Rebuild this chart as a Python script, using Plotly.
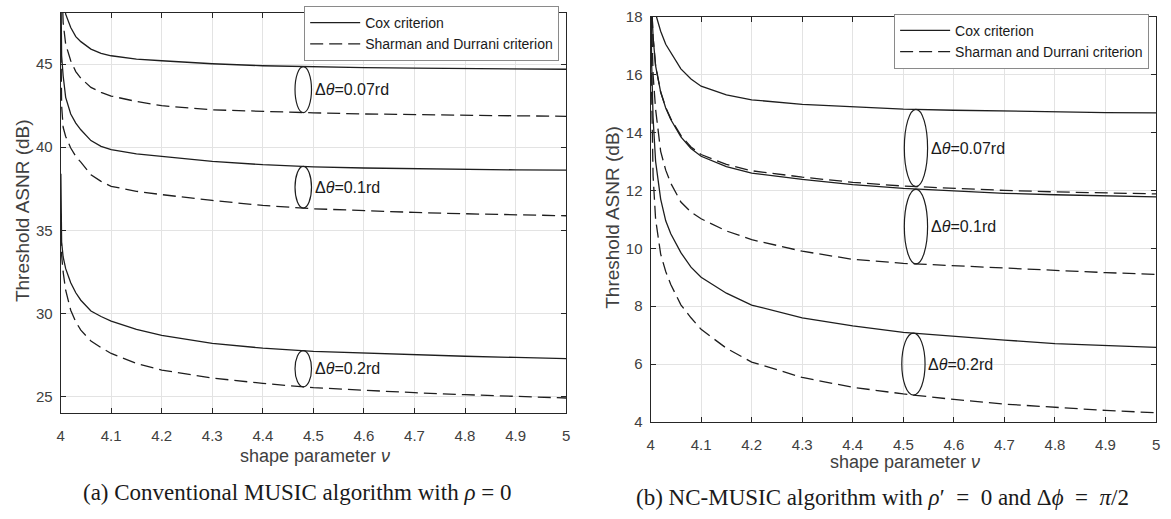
import numpy as np
import plotly.graph_objects as go

# ---------------- data ----------------
nu = [4.0005, 4.002, 4.005, 4.01, 4.02, 4.03, 4.04, 4.06, 4.08, 4.1, 4.15, 4.2,
      4.3, 4.4, 4.5, 4.6, 4.7, 4.8, 4.9, 5.0]

# (a) Conventional MUSIC, rho = 0
a_cox_007 = [56.0, 52.0, 49.5, 48.0, 47.2, 46.65, 46.35, 45.9, 45.65, 45.5, 45.3, 45.2,
             45.02, 44.9, 44.83, 44.79, 44.76, 44.73, 44.71, 44.69]
a_sd_007 = [55.0, 50.5, 47.5, 46.2, 45.2, 44.55, 44.15, 43.6, 43.3, 43.08, 42.75, 42.5,
            42.25, 42.15, 42.07, 42.0, 41.95, 41.92, 41.89, 41.86]
a_cox_01 = [50.0, 45.5, 44.3, 43.0, 42.0, 41.45, 41.05, 40.4, 40.05, 39.85, 39.6, 39.44,
            39.15, 38.95, 38.82, 38.75, 38.7, 38.66, 38.64, 38.62]
a_sd_01 = [47.0, 42.5, 41.2, 40.65, 39.95, 39.45, 39.1, 38.35, 37.95, 37.65, 37.35, 37.15,
           36.8, 36.5, 36.3, 36.18, 36.08, 36.0, 35.94, 35.88]
a_cox_02 = [38.4, 34.3, 33.4, 32.7, 31.85, 31.25, 30.8, 30.15, 29.82, 29.55, 29.05, 28.68,
            28.2, 27.92, 27.73, 27.62, 27.52, 27.43, 27.36, 27.29]
a_sd_02 = [36.0, 33.5, 32.5, 31.4, 30.2, 29.5, 29.0, 28.35, 27.95, 27.6, 27.0, 26.6,
           26.12, 25.8, 25.54, 25.38, 25.24, 25.12, 25.01, 24.92]

# (b) NC-MUSIC, rho' = 0, dphi = pi/2
b_cox_007 = [22.0, 20.0, 19.0, 18.1, 17.5, 17.05, 16.75, 16.2, 15.85, 15.6, 15.3, 15.13,
             14.97, 14.88, 14.81, 14.77, 14.74, 14.71, 14.69, 14.68]
b_sd_007 = [22.0, 18.5, 17.3, 16.3, 15.4, 14.87, 14.48, 13.9, 13.5, 13.24, 12.9, 12.68,
            12.46, 12.28, 12.15, 12.07, 12.0, 11.95, 11.91, 11.88]
b_cox_01 = [22.0, 18.5, 17.3, 16.3, 15.4, 14.85, 14.45, 13.85, 13.45, 13.18, 12.82, 12.6,
            12.38, 12.2, 12.07, 11.98, 11.9, 11.85, 11.81, 11.78]
b_sd_01 = [22.0, 18.0, 16.0, 14.8, 13.35, 12.7, 12.25, 11.6, 11.25, 11.02, 10.6, 10.3,
           9.9, 9.62, 9.48, 9.4, 9.3, 9.22, 9.16, 9.1]
b_cox_02 = [20.0, 16.5, 14.5, 13.0, 11.7, 10.95, 10.5, 9.85, 9.35, 9.0, 8.45, 8.04,
            7.6, 7.32, 7.1, 6.96, 6.83, 6.71, 6.65, 6.58]
b_sd_02 = [20.0, 15.5, 12.5, 11.0, 9.8, 9.2, 8.75, 8.05, 7.6, 7.2, 6.55, 6.07,
           5.54, 5.2, 4.97, 4.78, 4.62, 4.5, 4.4, 4.32]

x_ticks = [4.0, 4.1, 4.2, 4.3, 4.4, 4.5, 4.6, 4.7, 4.8, 4.9, 5.0]
a_yticks = [25, 30, 35, 40, 45]
b_yticks = [4, 6, 8, 10, 12, 14, 16, 18]

a_groups = [("0.07", a_cox_007, a_sd_007), ("0.1", a_cox_01, a_sd_01), ("0.2", a_cox_02, a_sd_02)]
b_groups = [("0.07", b_cox_007, b_sd_007), ("0.1", b_cox_01, b_sd_01), ("0.2", b_cox_02, b_sd_02)]
a_mark_nu = 4.48
b_mark_nu = [4.525, 4.525, 4.52]

# ---------------- figure ----------------
W, H = 1171, 519
LINE = "#262626"
CURVE = "#1e1e1e"
DASH = "13px,6px"

def px_x(p):
    return p / W

def px_y(p):
    return 1 - p / H

fig = go.Figure()

def add_panel(groups, xa, ya, legend_name):
    for i, (lab, cox, sd) in enumerate(groups):
        fig.add_trace(go.Scatter(x=nu, y=cox, mode="lines", xaxis=xa, yaxis=ya,
                                 line=dict(color=CURVE, width=1.3),
                                 name="Cox criterion", legend=legend_name,
                                 showlegend=(i == 0)))
        fig.add_trace(go.Scatter(x=nu, y=sd, mode="lines", xaxis=xa, yaxis=ya,
                                 line=dict(color=CURVE, width=1.3, dash=DASH),
                                 name="Sharman and Durrani criterion", legend=legend_name,
                                 showlegend=(i == 0)))

add_panel(a_groups, "x", "y", "legend")
add_panel(b_groups, "x2", "y2", "legend2")

# ellipses + labels (extent taken from the curves at the marker position)
def add_marks(groups, xref, yref, centers, half_w, lab_dx):
    for (lab, cox, sd), c in zip(groups, centers):
        top = float(np.interp(c, nu, cox))
        bot = float(np.interp(c, nu, sd))
        fig.add_shape(type="circle", xref=xref, yref=yref,
                      x0=c - half_w, x1=c + half_w, y0=bot, y1=top,
                      line=dict(color=CURVE, width=1.2))
        fig.add_annotation(xref=xref, yref=yref, x=c + lab_dx, y=(top + bot) / 2,
                           text="Δ<i>θ</i>=" + lab + "rd", showarrow=False,
                           xanchor="left", yanchor="middle",
                           font=dict(family="Liberation Sans", size=16, color="#1a1a1a"))

add_marks(a_groups, "x", "y", [a_mark_nu] * 3, 0.0163, 0.019)
add_marks(b_groups, "x2", "y2", b_mark_nu, 0.023, 0.025)

tickfont = dict(family="Liberation Sans", size=15, color="#404040")
common_x = dict(range=[4, 5], tickvals=x_ticks, ticktext=[("%g" % v) for v in x_ticks],
                showgrid=True, gridcolor="#e3e3e3", gridwidth=1,
                showline=True, linecolor=LINE, linewidth=1, mirror="ticks",
                ticks="inside", ticklen=5, tickcolor=LINE, tickfont=tickfont,
                ticklabelstandoff=9, ticklabeloverflow="allow", zeroline=False)
common_y = dict(showgrid=True, gridcolor="#e3e3e3", gridwidth=1,
                showline=True, linecolor=LINE, linewidth=1, mirror="ticks",
                ticks="inside", ticklen=5, tickcolor=LINE, tickfont=tickfont,
                ticklabelstandoff=4, ticklabeloverflow="allow", zeroline=False)

legend_font = dict(family="Liberation Sans", size=14, color="#1a1a1a")
fig.update_layout(
    width=W, height=H, margin=dict(l=0, r=0, t=0, b=0),
    paper_bgcolor="white", plot_bgcolor="white",
    xaxis=dict(domain=[px_x(57), px_x(566)], anchor="y", **common_x),
    yaxis=dict(domain=[px_y(418), px_y(4)], anchor="x", range=[24.0, 48.08],
               tickvals=a_yticks, **common_y),
    xaxis2=dict(domain=[px_x(651), px_x(1160)], anchor="y2", **common_x),
    yaxis2=dict(domain=[px_y(427), px_y(8)], anchor="x2", range=[4, 18.0001],
                tickvals=b_yticks, **common_y),
    legend=dict(x=px_x(559), y=px_y(-3), xanchor="right", yanchor="top",
                bgcolor="white", bordercolor="#8a8a8a", borderwidth=1,
                font=legend_font, itemwidth=50, tracegroupgap=0),
    legend2=dict(x=px_x(1153), y=px_y(5), xanchor="right", yanchor="top",
                 bgcolor="white", bordercolor="#8a8a8a", borderwidth=1,
                 font=legend_font, itemwidth=50, tracegroupgap=0),
    showlegend=True,
)

axis_font = dict(family="Liberation Sans", size=18, color="#404040")
# axis titles
fig.add_annotation(xref="paper", yref="paper", x=px_x(313), y=px_y(462),
                   text="shape parameter <i>ν</i>", showarrow=False,
                   xanchor="center", yanchor="middle", font=axis_font)
fig.add_annotation(xref="paper", yref="paper", x=px_x(907), y=px_y(468),
                   text="shape parameter <i>ν</i>", showarrow=False,
                   xanchor="center", yanchor="middle", font=axis_font)
fig.add_annotation(xref="paper", yref="paper", x=px_x(18), y=px_y(208),
                   text="Threshold ASNR (dB)", showarrow=False, textangle=-90,
                   xanchor="center", yanchor="middle",
                   font=dict(family="Liberation Sans", size=19, color="#404040"))
fig.add_annotation(xref="paper", yref="paper", x=px_x(613), y=px_y(215),
                   text="Threshold ASNR (dB)", showarrow=False, textangle=-90,
                   xanchor="center", yanchor="middle",
                   font=dict(family="Liberation Sans", size=19, color="#404040"))

# captions
cap_font = dict(family="Liberation Serif", size=23, color="#1a1a1a")
fig.add_annotation(xref="paper", yref="paper", x=px_x(295), y=px_y(500),
                   text="(a) Conventional MUSIC algorithm with <i>ρ</i> = 0",
                   showarrow=False, xanchor="center", yanchor="middle", font=cap_font)
fig.add_annotation(xref="paper", yref="paper", x=px_x(885), y=px_y(505),
                   text="(b) NC-MUSIC algorithm with <i>ρ</i>′ &nbsp;=&nbsp; 0 and Δ<i>ϕ</i> &nbsp;=&nbsp; <i>π</i>/2",
                   showarrow=False, xanchor="center", yanchor="middle", font=cap_font)

fig.write_html("out.html", config={"displayModeBar": False},
               post_script="document.body.style.margin='0';document.body.style.overflow='hidden';")
